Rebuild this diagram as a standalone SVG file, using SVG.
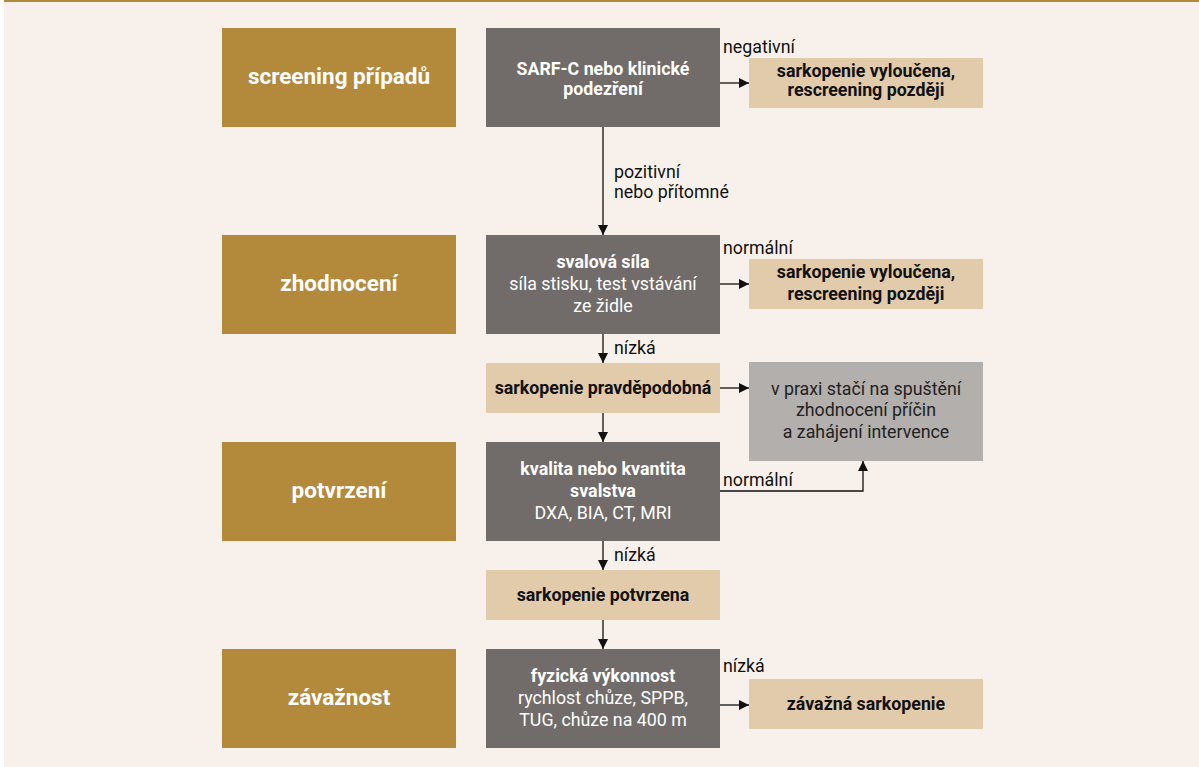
<svg xmlns="http://www.w3.org/2000/svg" width="1199" height="767" viewBox="0 0 1199 767">
<style>
.stage{fill:#b3893c}
.step{fill:#716c6a}
.res{fill:#e1cbab}
.note{fill:#b3afad}
text{font-family:Roboto,"Liberation Sans",sans-serif;text-anchor:middle}
.st{font-size:22.5px;font-weight:bold;fill:#fff}
.sb{font-size:17.8px;font-weight:bold;fill:#fff}
.sn{font-size:17.8px;fill:#fff}
.rb{font-size:17.8px;font-weight:bold;fill:#111}
.nt{font-size:17.8px;fill:#222}
.lb{font-size:17.8px;fill:#111;text-anchor:start}
.ln{stroke:#111;stroke-width:1.3;fill:none}
</style>
<defs>
<marker id="ah" viewBox="0 0 10 10" refX="10" refY="5" markerWidth="10" markerHeight="10" markerUnits="userSpaceOnUse" orient="auto">
<path d="M0,0 L10,5 L0,10 z" fill="#111"/>
</marker>
</defs>
<rect x="0" y="0" width="1199" height="767" fill="#fff"/>
<rect x="4" y="0" width="1195" height="767" fill="#f8f1eb"/>
<rect x="4" y="0" width="1195" height="2" fill="#b3893c"/>

<g id="stage1"><rect class="stage" x="222" y="28" width="234" height="99"/><text class="st" x="339" y="84">screening případů</text></g>
<g id="stage2"><rect class="stage" x="222" y="235" width="234" height="99"/><text class="st" x="339" y="291">zhodnocení</text></g>
<g id="stage3"><rect class="stage" x="222" y="442" width="234" height="99"/><text class="st" x="339" y="498">potvrzení</text></g>
<g id="stage4"><rect class="stage" x="222" y="649" width="234" height="99"/><text class="st" x="339" y="705">závažnost</text></g>

<g id="sarfc"><rect class="step" x="486" y="28" width="234" height="99"/><text class="sb" x="603" y="75">SARF-C nebo klinické</text><text class="sb" x="603" y="95">podezření</text></g>
<g id="excl1"><rect class="res" x="749" y="58" width="234" height="50"/><text class="rb" x="866" y="77">sarkopenie vyloučena,</text><text class="rb" x="866" y="96">rescreening později</text></g>

<g id="sila"><rect class="step" x="486" y="235" width="234" height="99"/><text class="sb" x="603" y="268">svalová síla</text><text class="sn" x="603" y="290">síla stisku, test vstávání</text><text class="sn" x="603" y="312">ze židle</text></g>
<g id="excl2"><rect class="res" x="749" y="259" width="234" height="50"/><text class="rb" x="866" y="278">sarkopenie vyloučena,</text><text class="rb" x="866" y="300">rescreening později</text></g>

<g id="pravd"><rect class="res" x="486" y="363" width="234" height="50"/><text class="rb" x="603" y="394">sarkopenie pravděpodobná</text></g>
<g id="praxe"><rect class="note" x="749" y="362" width="234" height="99"/><text class="nt" x="866" y="395">v praxi stačí na spuštění</text><text class="nt" x="866" y="416">zhodnocení příčin</text><text class="nt" x="866" y="438">a zahájení intervence</text></g>

<g id="kvalita"><rect class="step" x="486" y="442" width="234" height="99"/><text class="sb" x="603" y="475">kvalita nebo kvantita</text><text class="sb" x="603" y="497">svalstva</text><text class="sn" x="603" y="519">DXA, BIA, CT, MRI</text></g>
<g id="potvrz"><rect class="res" x="486" y="570" width="234" height="50"/><text class="rb" x="603" y="601">sarkopenie potvrzena</text></g>

<g id="vykon"><rect class="step" x="486" y="649" width="234" height="99"/><text class="sb" x="603" y="682">fyzická výkonnost</text><text class="sn" x="603" y="704">rychlost chůze, SPPB,</text><text class="sn" x="603" y="726">TUG, chůze na 400 m</text></g>
<g id="zavazna"><rect class="res" x="749" y="679" width="234" height="50"/><text class="rb" x="866" y="710">závažná sarkopenie</text></g>

<g id="connectors">
<line class="ln" x1="603" y1="127" x2="603" y2="235" marker-end="url(#ah)"/>
<line class="ln" x1="720" y1="83" x2="749" y2="83" marker-end="url(#ah)"/>
<line class="ln" x1="603" y1="334" x2="603" y2="363" marker-end="url(#ah)"/>
<line class="ln" x1="720" y1="284" x2="749" y2="284" marker-end="url(#ah)"/>
<line class="ln" x1="720" y1="388" x2="749" y2="388" marker-end="url(#ah)"/>
<line class="ln" x1="603" y1="413" x2="603" y2="442" marker-end="url(#ah)"/>
<polyline class="ln" points="720,491 863,491 863,461" marker-end="url(#ah)"/>
<line class="ln" x1="603" y1="541" x2="603" y2="570" marker-end="url(#ah)"/>
<line class="ln" x1="603" y1="620" x2="603" y2="649" marker-end="url(#ah)"/>
<line class="ln" x1="720" y1="705" x2="749" y2="705" marker-end="url(#ah)"/>
<text class="lb" x="614" y="178">pozitivní</text>
<text class="lb" x="614" y="198">nebo přítomné</text>
<text class="lb" x="723" y="53">negativní</text>
<text class="lb" x="723" y="254">normální</text>
<text class="lb" x="614" y="354">nízká</text>
<text class="lb" x="723" y="486">normální</text>
<text class="lb" x="614" y="561">nízká</text>
<text class="lb" x="723" y="672">nízká</text>
</g>
</svg>
